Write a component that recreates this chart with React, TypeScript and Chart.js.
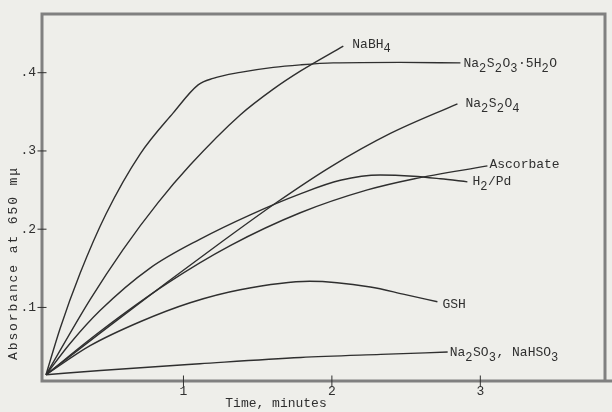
import { useEffect, useRef } from "react";
import { Chart, registerables } from "chart.js";

Chart.register(...registerables);

// ---- data (time in minutes, absorbance at 650 mμ) ----
const seriesLabels = [
  "Na_2S_2O_3·5H_2O",
  "NaBH_4",
  "Na_2S_2O_4",
  "Ascorbate",
  "H_2/Pd",
  "GSH",
  "Na_2SO_3, NaHSO_3",
];

const thiosulfateX = [0.074, 0.169, 0.303, 0.479, 0.708, 0.931, 1.099, 1.2, 1.382, 1.605, 1.787, 2.009, 2.461, 2.866];
const thiosulfateY = [0.014, 0.0731, 0.1433, 0.2197, 0.296, 0.3487, 0.3844, 0.3927, 0.4004, 0.4068, 0.41, 0.4125, 0.4132, 0.4125];

const borohydrideX = [0.074, 0.371, 0.593, 0.829, 1.045, 1.382, 1.605, 1.787, 2.077];
const borohydrideY = [0.014, 0.11, 0.174, 0.234, 0.282, 0.346, 0.379, 0.402, 0.434];

const dithioniteX = [0.074, 0.438, 0.89, 1.261, 1.632, 1.989, 2.394, 2.846];
const dithioniteY = [0.014, 0.0672, 0.1322, 0.1842, 0.2347, 0.2794, 0.3223, 0.3602];

const ascorbateX = [0.074, 0.438, 0.89, 1.315, 1.787, 2.239, 2.549, 3.048];
const ascorbateY = [0.014, 0.0692, 0.1307, 0.179, 0.221, 0.2502, 0.2642, 0.2809];

const hydrogenPdX = [0.074, 0.236, 0.438, 0.775, 1.113, 1.45, 1.787, 2.057, 2.326, 2.549, 2.731, 2.913];
const hydrogenPdY = [0.014, 0.0539, 0.096, 0.1503, 0.1874, 0.2184, 0.2452, 0.2625, 0.2692, 0.2676, 0.2644, 0.2605];

const gshX = [0.074, 0.371, 0.708, 1.045, 1.382, 1.85, 2.259, 2.495, 2.711];
const gshY = [0.014, 0.0511, 0.0817, 0.106, 0.1226, 0.1335, 0.1262, 0.1163, 0.1073];

const sulfiteX = [0.074, 0.44, 1.11, 1.79, 2.33, 2.78];
const sulfiteY = [0.014, 0.0195, 0.028, 0.036, 0.04, 0.043];

const xTicks = [1, 2, 3];
const yTicks = [0.1, 0.2, 0.3, 0.4];

const xTitle = "Time, minutes";
const yTitle = "Absorbance at 650 mμ";

// ---- styling ----
const X_MIN = 0.047;
const X_MAX = 3.84;
const Y_MIN = 0.006;
const Y_MAX = 0.475;
const FONT = '"Liberation Mono", "DejaVu Sans Mono", monospace';
const INK = "#2f2f2f";
const FRAME = "#808080";
const BG = "#eeeeea";
// offsets of each end label from the end of its curve (px)
const labelDx = [3, 9, 8, 2, 5, 5, 2];
const labelDy = [1, -2, 0, -1, 0, 3, 1];

const seriesX = [thiosulfateX, borohydrideX, dithioniteX, ascorbateX, hydrogenPdX, gshX, sulfiteX];
const seriesY = [thiosulfateY, borohydrideY, dithioniteY, ascorbateY, hydrogenPdY, gshY, sulfiteY];

function drawRich(ctx: CanvasRenderingContext2D, text: string, x: number, y: number, size: number) {
  ctx.font = `${size}px ${FONT}`;
  const adv = ctx.measureText("M").width;
  let cx = x;
  let i = 0;
  while (i < text.length) {
    let ch = text[i];
    let sub = false;
    if (ch === "_" && i + 1 < text.length) {
      sub = true;
      i++;
      ch = text[i];
    }
    ctx.font = `${sub ? size - 1 : size}px ${FONT}`;
    ctx.fillText(ch, cx, sub ? y + 4.5 : y);
    cx += adv;
    i++;
  }
}

const decorPlugin = {
  id: "decor",
  beforeDraw(chart: any) {
    const ctx = chart.ctx as CanvasRenderingContext2D;
    ctx.save();
    ctx.fillStyle = BG;
    ctx.fillRect(0, 0, chart.width, chart.height);
    ctx.restore();
  },
  afterDraw(chart: any) {
    const ctx = chart.ctx as CanvasRenderingContext2D;
    const a = chart.chartArea;
    const xs = chart.scales.x;
    const ys = chart.scales.y;
    ctx.save();
    // frame
    ctx.strokeStyle = FRAME;
    ctx.lineWidth = 3;
    ctx.lineCap = "square";
    ctx.beginPath();
    ctx.moveTo(a.left, a.bottom);
    ctx.lineTo(a.left, a.top);
    ctx.lineTo(a.right, a.top);
    ctx.lineTo(a.right, a.bottom);
    ctx.moveTo(a.left, a.bottom);
    ctx.lineTo(chart.width, a.bottom);
    ctx.stroke();
    // tick marks
    ctx.strokeStyle = INK;
    ctx.lineWidth = 1;
    ctx.beginPath();
    for (const v of xTicks) {
      const px = xs.getPixelForValue(v);
      ctx.moveTo(px, a.bottom - 5);
      ctx.lineTo(px, a.bottom + 5);
    }
    for (const v of yTicks) {
      const py = ys.getPixelForValue(v);
      ctx.moveTo(a.left - 4, py);
      ctx.lineTo(a.left + 4, py);
    }
    ctx.stroke();
    // end labels
    ctx.fillStyle = INK;
    ctx.textBaseline = "middle";
    ctx.textAlign = "left";
    chart.data.datasets.forEach((ds: any, i: number) => {
      const meta = chart.getDatasetMeta(i);
      const pts = meta.data;
      const last = pts[pts.length - 1];
      drawRich(ctx, seriesLabels[i], last.x + labelDx[i], last.y + labelDy[i], 13);
    });
    // axis titles
    ctx.font = `13px ${FONT}`;
    ctx.textAlign = "center";
    ctx.fillText(xTitle, 276, 404);
    ctx.save();
    (ctx as any).letterSpacing = "1.9px";
    ctx.translate(14, 263);
    ctx.rotate(-Math.PI / 2);
    ctx.fillText(yTitle, 0, 0);
    ctx.restore();
    ctx.restore();
  },
};

export default function App() {
  const ref = useRef<HTMLCanvasElement>(null);
  useEffect(() => {
    if (!ref.current) return;
    const datasets = seriesLabels.map((label, i) => ({
      label,
      data: seriesX[i].map((x, j) => ({ x, y: seriesY[i][j] })),
      borderColor: INK,
      borderWidth: 1.4,
      pointRadius: 0,
      fill: false,
      cubicInterpolationMode: "monotone" as const,
    }));
    const chart = new Chart(ref.current, {
      type: "line",
      data: { datasets },
      options: {
        animation: false,
        responsive: false,
        devicePixelRatio: 1,
        layout: { padding: { top: 14, right: 7, left: 0, bottom: 0 } },
        plugins: {
          legend: { display: false },
          tooltip: { enabled: false },
        },
        scales: {
          x: {
            type: "linear",
            min: X_MIN,
            max: X_MAX,
            grid: { display: false, drawTicks: false },
            border: { display: false },
            afterBuildTicks: (axis: any) => {
              axis.ticks = xTicks.map((v) => ({ value: v }));
            },
            afterFit: (s: any) => {
              s.height = 31;
            },
            ticks: {
              padding: 3,
              color: INK,
              font: { family: FONT, size: 13 },
              callback: (v: any) => String(v),
            },
          },
          y: {
            type: "linear",
            min: Y_MIN,
            max: Y_MAX,
            grid: { display: false, drawTicks: false },
            border: { display: false },
            afterBuildTicks: (axis: any) => {
              axis.ticks = yTicks.map((v) => ({ value: v }));
            },
            afterFit: (s: any) => {
              s.width = 42;
            },
            ticks: {
              padding: 6,
              color: INK,
              font: { family: FONT, size: 13 },
              callback: (v: any) => "." + Math.round(Number(v) * 10),
            },
          },
        },
      },
      plugins: [decorPlugin],
    });
    return () => chart.destroy();
  }, []);
  return (
    <div style={{ position: "fixed", left: 0, top: 0, width: 612, height: 412, background: BG }}>
      <canvas ref={ref} width={612} height={412} style={{ display: "block" }} />
    </div>
  );
}
